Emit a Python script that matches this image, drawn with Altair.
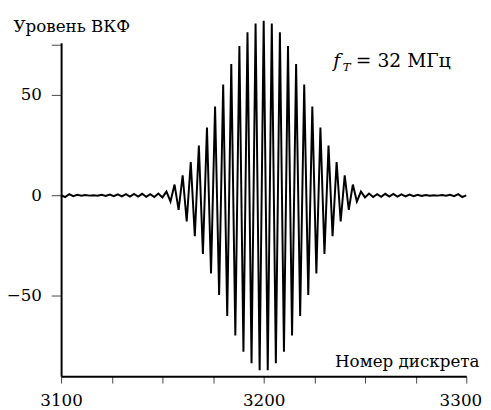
import altair as alt
import pandas as pd

# sample numbers (every second sample)
n_vals = list(range(3100, 3301, 2))

# left quiet zone 3100..3154
v_left = [0.0, -0.8, 0.6, -0.4, 0.3, -0.2, 0.2, -0.1, 0.1, -0.2, 0.3, -0.3, 0.4, -0.4,
          0.5, -0.5, 0.6, -0.6, 0.7, -0.6, 0.8, -0.7, 0.6, -0.8, 0.9, -1.0, 1.9, -3.0]
# main lobe 3156..3244
v_main = [5.4, -7.2, 10.0, -13.0, 16.6, -20.3, 24.8, -29.1, 33.8, -38.9, 44.3, -49.6,
          55.2, -60.0, 65.4, -69.8, 74.4, -77.8, 81.3, -83.6, 85.6, -87.0, 87.0,
          -87.0, 85.6, -83.6, 81.3, -77.8, 74.4, -69.8, 65.4, -60.0, 55.2, -49.6,
          44.3, -38.9, 33.8, -29.1, 24.8, -20.3, 16.6, -13.0, 10.0, -7.2, 5.4]
# right quiet zone 3246..3300
v_right = [-3.0, 1.9, -1.0, 0.9, -0.8, 0.6, -0.7, 0.8, -0.6, 0.7, -0.6, 0.5, -0.5, 0.4,
           -0.4, 0.3, -0.3, 0.2, -0.2, 0.1, -0.1, 0.2, -0.2, 0.3, -0.4, 0.6, -0.8, 0.0]

v_vals = v_left + v_main + v_right

x_ticks = list(range(3100, 3301, 25))
y_ticks = [-50, 0, 50, 75]

df = pd.DataFrame({"n": n_vals, "v": v_vals})

FONT = "DejaVu Serif"

x_scale = alt.Scale(domain=[3100, 3300], nice=False, zero=False)
y_scale = alt.Scale(domain=[-90, 76], nice=False, zero=False)

line = alt.Chart(df).mark_line(color="black", strokeWidth=2, clip=False).encode(
    x=alt.X("n:Q", scale=x_scale,
            axis=alt.Axis(values=x_ticks, format="d",
                          labelExpr="datum.value % 100 == 0 ? datum.label : ''",
                          tickSize=7, labelPadding=10, labelFlush=False,
                          labelOffset={"condition": {"test": "datum.value == 3300", "value": -6},
                                       "value": 0},
                          title="Номер дискрета", titleAnchor="end",
                          titleAlign="right", titleBaseline="alphabetic",
                          titleX=425, titleY=-10)),
    y=alt.Y("v:Q", scale=y_scale,
            axis=alt.Axis(values=y_ticks, format="d",
                          labelExpr="datum.value == 75 ? '' : datum.label",
                          tickSize=10, labelPadding=10, labelFlush=False,
                          title="Уровень ВКФ", titleAngle=0, titleAlign="left",
                          titleBaseline="alphabetic", titleX=-49, titleY=-11)),
)

ann_f = pd.DataFrame({"n": [3234.3], "v": [64.0], "t": ["f"]})
ann_T = pd.DataFrame({"n": [3239.0], "v": [61.8], "t": ["T"]})
ann_rest = pd.DataFrame({"n": [3245.5], "v": [64.0], "t": ["= 32 МГц"]})

t_f = alt.Chart(ann_f).mark_text(font=FONT, fontSize=19, fontStyle="italic", align="left",
                                 baseline="alphabetic", color="black").encode(
    x=alt.X("n:Q", scale=x_scale), y=alt.Y("v:Q", scale=y_scale), text="t:N")
t_T = alt.Chart(ann_T).mark_text(font=FONT, fontSize=12, fontStyle="italic", align="left",
                                 baseline="alphabetic", color="black").encode(
    x=alt.X("n:Q", scale=x_scale), y=alt.Y("v:Q", scale=y_scale), text="t:N")
t_rest = alt.Chart(ann_rest).mark_text(font=FONT, fontSize=19, align="left",
                                       baseline="alphabetic", color="black").encode(
    x=alt.X("n:Q", scale=x_scale), y=alt.Y("v:Q", scale=y_scale), text="t:N")

chart = alt.layer(line, t_f, t_T, t_rest).properties(
    width=412, height=339,
    padding={"left": 54, "top": 32, "right": 17, "bottom": 30},
    autosize=alt.AutoSizeParams(type="none"),
).configure_view(stroke=None).configure_axis(
    grid=False, domainColor="black", domainWidth=2, tickColor="#444", tickWidth=1,
    labelFont=FONT, labelFontSize=17, labelColor="black",
    titleFont=FONT, titleFontSize=17, titleFontWeight="normal", titleColor="black",
)

chart.save("out.html", embed_options={"renderer": "svg", "actions": False})
